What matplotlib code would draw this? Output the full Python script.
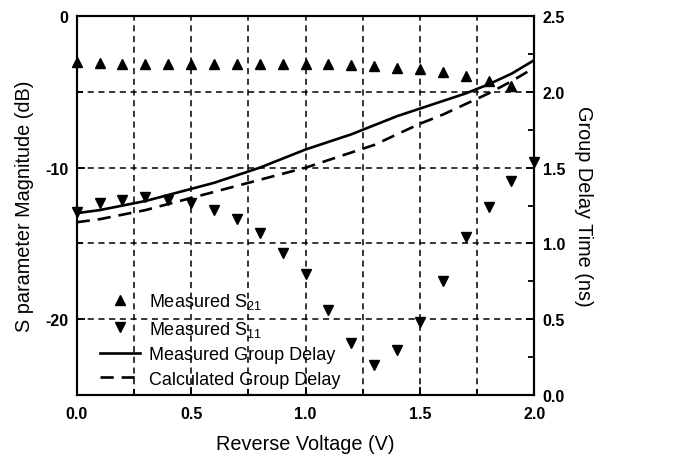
import matplotlib
matplotlib.use('Agg')
from matplotlib import pyplot as plt
from matplotlib.ticker import MultipleLocator
import numpy as np

plt.rcParams['font.family'] = ['Liberation Sans', 'DejaVu Sans']
plt.rcParams['mathtext.default'] = 'regular'
plt.rcParams['axes.unicode_minus'] = False

# reverse voltage (V)
voltage = [0.0, 0.1, 0.2, 0.3, 0.4, 0.5, 0.6, 0.7, 0.8, 0.9, 1.0,
           1.1, 1.2, 1.3, 1.4, 1.5, 1.6, 1.7, 1.8, 1.9, 2.0]

# measured S21 (dB)
s21_v = voltage[:20]
s21 = [-3.05, -3.1, -3.15, -3.15, -3.15, -3.15, -3.15, -3.15, -3.15, -3.15,
       -3.15, -3.15, -3.2, -3.3, -3.4, -3.5, -3.7, -3.95, -4.25, -4.6]

# measured S11 (dB)
s11 = [-12.9, -12.3, -12.1, -11.95, -12.1, -12.3, -12.8, -13.4, -14.3, -15.6,
       -17.0, -19.4, -21.6, -23.0, -22.0, -20.2, -17.5, -14.6, -12.6, -10.9, -9.6]

# group delay (ns)
gd_meas = [1.20, 1.22, 1.25, 1.28, 1.32, 1.36, 1.40, 1.45, 1.50, 1.56, 1.62,
           1.67, 1.72, 1.78, 1.84, 1.89, 1.94, 1.99, 2.05, 2.12, 2.21]
gd_calc = [1.14, 1.16, 1.19, 1.22, 1.26, 1.30, 1.34, 1.38, 1.42, 1.46, 1.50,
           1.55, 1.60, 1.65, 1.72, 1.79, 1.85, 1.92, 1.99, 2.07, 2.16]

fig = plt.figure(figsize=(6.85, 4.64), dpi=100)
ax = fig.add_axes([0.112, 0.1466, 0.668, 0.8164])
ax2 = ax.twinx()

ax.set_xlim(0, 2.0)
ax.set_ylim(-25, 0)
ax2.set_ylim(0, 2.5)

ax.xaxis.set_major_locator(MultipleLocator(0.5))
ax.xaxis.set_minor_locator(MultipleLocator(0.25))
ax.yaxis.set_major_locator(MultipleLocator(10))
ax.yaxis.set_minor_locator(MultipleLocator(5))
ax2.yaxis.set_major_locator(MultipleLocator(0.5))
ax2.yaxis.set_minor_locator(MultipleLocator(0.25))

ax.grid(True, which='both', color='black', linestyle=(0, (4, 3)), linewidth=1.1)
ax.set_axisbelow(True)

h1, = ax.plot(s21_v, s21, linestyle='none', marker='^', color='black',
              markersize=7.5, label='Measured S$_{21}$', clip_on=False)
h2, = ax.plot(voltage, s11, linestyle='none', marker='v', color='black',
              markersize=7.5, label='Measured S$_{11}$', clip_on=False)
h3, = ax2.plot(voltage, gd_meas, color='black', linewidth=1.9,
               label='Measured Group Delay')
h4, = ax2.plot(voltage, gd_calc, color='black', linewidth=1.9,
               linestyle=(0, (5, 3)), label='Calculated Group Delay')

for a in (ax, ax2):
    for s in a.spines.values():
        s.set_linewidth(1.5)
    a.tick_params(which='both', direction='in', width=1.3, labelsize=11.5, pad=6)
    a.tick_params(which='major', length=6)
    a.tick_params(which='minor', length=4)
    for lab in a.get_xticklabels() + a.get_yticklabels():
        lab.set_fontweight('bold')
ax.tick_params(axis='x', which='both', pad=8)

ax.set_xlabel('Reverse Voltage (V)', fontsize=14.3, labelpad=9)
ax.set_ylabel('S parameter Magnitude (dB)', fontsize=14.3, labelpad=8)
ax2.set_ylabel('Group Delay Time (ns)', fontsize=14.3, rotation=270, labelpad=20)

ax2.legend(handles=[h1, h2, h3, h4], loc='lower left', frameon=False,
           fontsize=13, labelspacing=0.42, handlelength=2.2, handletextpad=0.5,
           borderaxespad=0.0, bbox_to_anchor=(0.035, 0.0))

fig.savefig('out.png', dpi=100)
